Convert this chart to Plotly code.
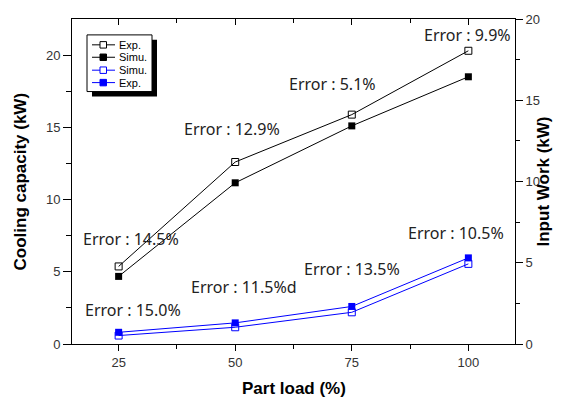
import plotly.graph_objects as go

# Part-load operating points (%)
part_load = [25, 50, 75, 100]

# Cooling capacity (kW), left axis
cooling_exp = [5.37, 12.6, 15.88, 20.3]
cooling_simu = [4.68, 11.16, 15.1, 18.5]

# Input work (kW), right axis
work_simu = [0.52, 1.03, 1.95, 4.93]
work_exp = [0.72, 1.30, 2.31, 5.3]

# Error labels: (x, y on cooling axis, text)
err_x = [27.6, 49.4, 70.9, 99.9, 28.0, 51.8, 75.1, 97.4]
err_y = [7.28, 14.86, 17.98, 21.4, 2.35, 3.98, 5.18, 7.69]
err_text = ["Error : 14.5%", "Error : 12.9%", "Error : 5.1%", "Error : 9.9%",
            "Error : 15.0%", "Error : 11.5%d", "Error : 13.5%", "Error : 10.5%"]

# Legend rows: label, colour, filled marker?
legend_labels = ["Exp.", "Simu.", "Simu.", "Exp."]
legend_colors = ["black", "black", "#0000ff", "#0000ff"]
legend_filled = [False, True, False, True]

BLUE = "#0000ff"
W, H = 565, 401
ML, MR, MT, MB = 72, 50, 17, 57
PW, PH = W - ML - MR, H - MT - MB


def px(x):
    return (x - ML) / PW


def py(y):
    return (H - MB - y) / PH


fig = go.Figure()

fig.add_trace(go.Scatter(
    x=part_load, y=cooling_exp, name="Exp.", mode="lines+markers",
    line=dict(color="black", width=1),
    marker=dict(symbol="square-open", size=7, color="black", line=dict(width=1)),
))
fig.add_trace(go.Scatter(
    x=part_load, y=cooling_simu, name="Simu.", mode="lines+markers",
    line=dict(color="black", width=1),
    marker=dict(symbol="square", size=7, color="black"),
))
fig.add_trace(go.Scatter(
    x=part_load, y=work_simu, name="Simu.", mode="lines+markers", yaxis="y2",
    line=dict(color=BLUE, width=1),
    marker=dict(symbol="square-open", size=7, color=BLUE, line=dict(width=1)),
))
fig.add_trace(go.Scatter(
    x=part_load, y=work_exp, name="Exp.", mode="lines+markers", yaxis="y2",
    line=dict(color=BLUE, width=1),
    marker=dict(symbol="square", size=7, color=BLUE),
))
# empty trace so the top frame axis is drawn
fig.add_trace(go.Scatter(x=[], y=[], xaxis="x2", showlegend=False, hoverinfo="skip"))

for x, y, t in zip(err_x, err_y, err_text):
    fig.add_annotation(x=x, y=y, xref="x", yref="y", text=t, showarrow=False,
                       font=dict(family="Noto Sans", size=16, color="#222222"))

tick_font = dict(family="Liberation Sans, Arial", size=13, color="#333333")
title_font = dict(family="Liberation Sans, Arial", size=17, color="black")

# axis titles
fig.add_annotation(x=0.5, y=py(389), xref="paper", yref="paper", text="<b>Part load (%)</b>",
                   showarrow=False, font=title_font, yanchor="middle")
fig.add_annotation(x=px(20), y=0.5, xref="paper", yref="paper", text="<b>Cooling capacity (kW)</b>",
                   showarrow=False, font=title_font, textangle=-90, xanchor="center")
fig.add_annotation(x=px(543), y=0.5, xref="paper", yref="paper", text="<b>Input Work (kW)</b>",
                   showarrow=False, font=title_font, textangle=-90, xanchor="center")

# boxed legend with drop shadow
box_l, box_r, box_t, box_b = 87, 152, 33, 90
fig.add_shape(type="rect", xref="paper", yref="paper",
              x0=px(box_l + 5), x1=px(box_r + 5), y0=py(box_b + 5), y1=py(box_t + 5),
              fillcolor="black", line=dict(width=0), layer="above")
fig.add_shape(type="rect", xref="paper", yref="paper",
              x0=px(box_l), x1=px(box_r), y0=py(box_b), y1=py(box_t),
              fillcolor="white", line=dict(color="black", width=1), layer="above")
row_y = [43, 55.5, 68.5, 81]
for ry, lab, col, filled in zip(row_y, legend_labels, legend_colors, legend_filled):
    fig.add_shape(type="line", xref="paper", yref="paper",
                  x0=px(92), x1=px(115), y0=py(ry), y1=py(ry),
                  line=dict(color=col, width=1), layer="above")
    fig.add_shape(type="rect", xref="paper", yref="paper",
                  x0=px(100), x1=px(106.5), y0=py(ry + 3.25), y1=py(ry - 3.25),
                  fillcolor=col if filled else "white",
                  line=dict(color=col, width=1), layer="above")
    fig.add_annotation(x=px(117), y=py(ry), xref="paper", yref="paper", text=lab,
                       showarrow=False, xanchor="left", yanchor="middle",
                       font=dict(family="Liberation Sans, Arial", size=11, color="black"))

fig.update_layout(
    width=W, height=H,
    margin=dict(l=ML, r=MR, t=MT, b=MB),
    paper_bgcolor="white", plot_bgcolor="white",
    showlegend=False,
    xaxis=dict(range=[15, 110], tickvals=[25, 50, 75, 100], ticks="outside", ticklen=6,
               tickwidth=1, tickcolor="black", showline=True, linecolor="black", linewidth=1,
               showgrid=False, zeroline=False, tickfont=tick_font,
               minor=dict(tickvals=[37.5, 62.5, 87.5], ticks="outside", ticklen=4,
                          tickcolor="black", showgrid=False)),
    xaxis2=dict(range=[15, 110], overlaying="x", side="top", tickvals=[25, 50, 75, 100],
                ticks="inside", ticklen=6, tickcolor="black", showticklabels=False,
                showline=True, linecolor="black", linewidth=1, showgrid=False, zeroline=False,
                minor=dict(tickvals=[37.5, 62.5, 87.5], ticks="inside", ticklen=4,
                           tickcolor="black", showgrid=False)),
    yaxis=dict(range=[0, 22.5], tickvals=[0, 5, 10, 15, 20], ticks="outside", ticklen=8,
               tickwidth=1, tickcolor="black", showline=True, linecolor="black", linewidth=1,
               showgrid=False, zeroline=False, tickfont=tick_font,
               minor=dict(tickvals=[2.5, 7.5, 12.5, 17.5], ticks="outside", ticklen=5,
                          tickcolor="black", showgrid=False)),
    yaxis2=dict(range=[0, 20], overlaying="y", side="right", tickvals=[0, 5, 10, 15, 20],
                ticks="outside", ticklen=7, tickwidth=1, tickcolor="black", showline=True,
                linecolor="black", linewidth=1, showgrid=False, zeroline=False,
                tickfont=tick_font,
                minor=dict(tickvals=[2.5, 7.5, 12.5, 17.5], ticks="outside", ticklen=4,
                           tickcolor="black", showgrid=False)),
)

fig.write_html("out.html")
